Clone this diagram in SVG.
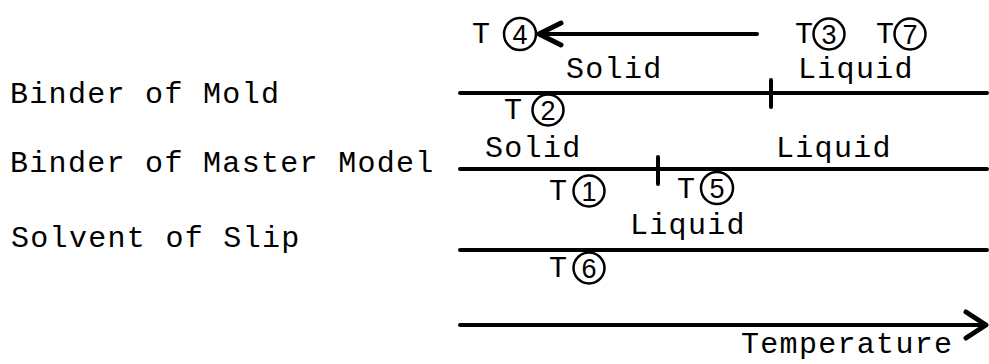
<svg xmlns="http://www.w3.org/2000/svg" width="989" height="364" viewBox="0 0 989 364">
  <style>
    text { font-family: "Liberation Mono", "Courier New", monospace; font-size: 30px; letter-spacing: 1.3px; fill: #000; }
    .num { font-family: "Liberation Sans", Arial, sans-serif; font-size: 27px; letter-spacing: 0; text-anchor: middle; }
    .bar { stroke: #000; stroke-width: 4; stroke-linecap: round; fill: none; }
    .tick { stroke: #000; stroke-width: 4; stroke-linecap: round; }
    .ring { fill: #fff; stroke: #000; stroke-width: 2.5; }
    .head { stroke: #000; stroke-width: 5; stroke-linecap: round; stroke-linejoin: round; fill: none; }
  </style>
  <rect width="989" height="364" fill="#fff"/>

  <!-- row labels -->
  <g id="labels">
    <text x="10" y="103">Binder of Mold</text>
    <text x="10" y="172">Binder of Master Model</text>
    <text x="11" y="247">Solvent of Slip</text>
  </g>

  <!-- state bars, phase ticks and arrows -->
  <g id="connectors">
    <line class="bar" x1="460" y1="93" x2="987" y2="93"/>
    <line class="bar" x1="460" y1="169" x2="987" y2="169"/>
    <line class="bar" x1="460" y1="250" x2="987" y2="250"/>
    <line class="tick" x1="771" y1="80" x2="771" y2="107"/>
    <line class="tick" x1="658" y1="157" x2="658" y2="184"/>
    <!-- cooling arrow toward T4 -->
    <line class="bar" x1="540" y1="34" x2="757" y2="34"/>
    <path class="head" d="M561,23 L539,34 L561,45"/>
    <!-- temperature axis -->
    <line class="bar" x1="460" y1="325" x2="984" y2="325"/>
    <path class="head" d="M966,312 L986,325 L966,338"/>
  </g>

  <!-- phase labels -->
  <g id="phases">
    <text x="566" y="78">Solid</text>
    <text x="798" y="78">Liquid</text>
    <text x="485" y="157">Solid</text>
    <text x="776" y="157">Liquid</text>
    <text x="630" y="234">Liquid</text>
    <text x="741" y="353">Temperature</text>
  </g>

  <!-- temperature points -->
  <g id="t4"><text x="472" y="43">T</text><circle class="ring" cx="520" cy="34" r="16"/><text class="num" x="520" y="44">4</text></g>
  <g id="t3"><text x="795" y="43">T</text><circle class="ring" cx="829" cy="34" r="15.5"/><text class="num" x="829" y="44">3</text></g>
  <g id="t7"><text x="876" y="43">T</text><circle class="ring" cx="910" cy="34" r="15.5"/><text class="num" x="910" y="44">7</text></g>
  <g id="t2"><text x="504" y="119">T</text><circle class="ring" cx="548" cy="110" r="15.5"/><text class="num" x="548" y="120">2</text></g>
  <g id="t1"><text x="549" y="200">T</text><circle class="ring" cx="589" cy="191" r="15.5"/><text class="num" x="589" y="201">1</text></g>
  <g id="t5"><text x="677" y="198">T</text><circle class="ring" cx="717" cy="188" r="16"/><text class="num" x="717" y="198">5</text></g>
  <g id="t6"><text x="549" y="277">T</text><circle class="ring" cx="589" cy="268" r="15.5"/><text class="num" x="589" y="278">6</text></g>
</svg>
